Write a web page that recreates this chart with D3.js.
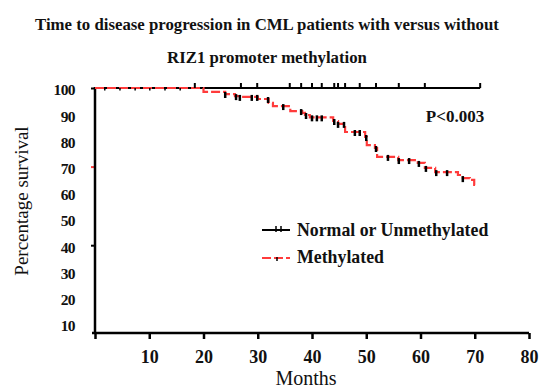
<!DOCTYPE html>
<html>
<head>
<meta charset="utf-8">
<script src="https://cdn.jsdelivr.net/npm/d3@7"></script>
<style>
  body { margin: 0; background: #fff; }
  text { font-family: "Liberation Serif", "Times New Roman", serif; fill: #111; }
</style>
</head>
<body>
<div id="dataViz" style="width:558px;height:389px"></div>
<script>
const width = 558;
const height = 389;

// Kaplan-Meier data
const methTimes = [0, 20, 24, 25.8, 26.7, 30, 32, 32.8, 36, 38.2, 38.7, 39.6, 43.9, 44.8, 46.1, 49.8, 50.1, 51.6, 52, 55.9, 59.5, 60.8, 62.7, 66.9, 67.8, 69.1, 69.9];
const methSurv = [100, 98.5, 97.7, 96.9, 96.6, 95.8, 94.3, 93.1, 91.2, 90.5, 89.7, 88.8, 87.4, 86.3, 83.2, 81.3, 78.2, 77.1, 73.7, 72.5, 71.4, 69.5, 67.9, 66.8, 65.6, 64.9, 63.0];
const methEnd = 70.3;
const methCensored = [1.8, 4.6, 7.4, 10.1, 12.9, 15.7, 24.0, 26.0, 26.7, 28.9, 29.9, 31.9, 34.7, 38.0, 38.9, 40.0, 40.9, 41.8, 44.1, 44.8, 45.9, 47.9, 48.8, 50.0, 51.8, 54.0, 56.0, 57.9, 59.7, 61.0, 62.9, 64.9, 67.8];

const normTimes = [0, 71];
const normSurv = [100, 100];
const normCensored = [18.4, 26.9, 29.9, 35.9, 38.0, 40.0, 41.8, 44.1, 44.8, 46.1, 48.8, 51.8, 56.0, 60.8, 71.0];

const xTicks = [0, 10, 20, 30, 40, 50, 60, 70, 80];
const yLabels = [100, 90, 80, 70, 60, 50, 40, 30, 20, 10];
const yTickMarks = [100, 70, 40];

const colours = { red: "#ff3b3b", black: "#000" };

const svg = d3.select("#dataViz").append("svg")
  .attr("width", width).attr("height", height);

const x = d3.scaleLinear().domain([0, 80]).range([95, 529]);
const y = d3.scaleLinear().domain([0, 100]).range([350, 88]);
const axisY = 333;

// Title
svg.append("text").attr("x", 267).attr("y", 30).attr("text-anchor", "middle")
  .style("font-size", "16.8px").style("font-weight", "bold")
  .text("Time to disease progression in CML patients with versus without");
svg.append("text").attr("x", 267).attr("y", 63).attr("text-anchor", "middle")
  .style("font-size", "16.8px").style("font-weight", "bold")
  .text("RIZ1 promoter methylation");

// x axis
const gx = svg.append("g")
  .attr("transform", `translate(0, ${axisY})`)
  .call(d3.axisBottom(x).tickValues(xTicks).tickSize(6).tickSizeOuter(0).tickPadding(11)
    .tickFormat(d => d === 0 ? "" : d));
gx.select(".domain").attr("stroke-width", 2.5).attr("d", `M${x(0) - 3},0H${x(80)}`);
gx.selectAll(".tick line").attr("stroke-width", 2.5);
gx.selectAll(".tick text").style("font-size", "18px").style("font-weight", "bold")
  .style("font-family", "Liberation Serif, serif").attr("fill", "#111");

// y axis ticks
const gy = svg.append("g")
  .attr("transform", `translate(${x(0)}, 0)`)
  .call(d3.axisLeft(y).tickValues(yTickMarks).tickSize(4).tickFormat(""));
gy.select(".domain").remove();
gy.selectAll(".tick line").attr("stroke-width", 2)
  .attr("stroke", d => d === 70 ? colours.red : colours.black);
svg.append("line")
  .attr("x1", x(0)).attr("x2", x(0))
  .attr("y1", y(100) - 1).attr("y2", axisY)
  .attr("stroke", colours.black).attr("stroke-width", 2.5);

// y labels
const gyl = svg.append("g")
  .attr("transform", `translate(${x(0)}, 0)`)
  .call(d3.axisLeft(y).tickValues(yLabels).tickSize(0).tickPadding(20));
gyl.select(".domain").remove();
gyl.selectAll(".tick text").style("font-size", "15.5px").style("font-weight", "bold")
  .style("font-family", "Liberation Serif, serif").style("letter-spacing", "-0.6px")
  .attr("fill", "#111").attr("dy", "0.45em");

// Curves
const line = d3.line().x(d => x(d[0])).y(d => y(d[1])).curve(d3.curveStepAfter);

const normPts = normTimes.map((t, i) => [t, normSurv[i]]);
svg.append("path").datum(normPts)
  .attr("fill", "none").attr("stroke", colours.black).attr("stroke-width", 2)
  .attr("d", line);

const methPts = methTimes.map((t, i) => [t, methSurv[i]]);
methPts.push([methEnd, methSurv[methSurv.length - 1]]);
svg.append("path").datum(methPts)
  .attr("fill", "none").attr("stroke", colours.red).attr("stroke-width", 2.2)
  .attr("stroke-dasharray", "9,3")
  .attr("d", line);

// Censor marks
const methAt = t => methSurv[d3.bisectRight(methTimes, t) - 1];

svg.selectAll(".cn").data(normCensored).enter().append("line")
  .attr("x1", d => x(d)).attr("x2", d => x(d))
  .attr("y1", y(100) - 5).attr("y2", y(100))
  .attr("stroke", colours.black).attr("stroke-width", 2);

svg.selectAll(".cm").data(methCensored).enter().append("line")
  .attr("x1", d => x(d)).attr("x2", d => x(d))
  .attr("y1", d => y(methAt(d)) - (d < 18 ? 0 : 2))
  .attr("y2", d => y(methAt(d)) + (d < 18 ? 2.5 : 4))
  .attr("stroke", colours.black).attr("stroke-width", d => d < 18 ? 1.5 : 2.5);

// P value
svg.append("text").attr("x", 455).attr("y", 122).attr("text-anchor", "middle")
  .style("font-size", "17px").style("font-weight", "bold").text("P<0.003");

// Legend
const legend = svg.append("g");
legend.append("line").attr("x1", 262).attr("x2", 290).attr("y1", 230).attr("y2", 230)
  .attr("stroke", colours.black).attr("stroke-width", 2);
legend.append("line").attr("x1", 276).attr("x2", 276).attr("y1", 226).attr("y2", 232)
  .attr("stroke", colours.black).attr("stroke-width", 1.5);
legend.append("line").attr("x1", 281).attr("x2", 281).attr("y1", 226).attr("y2", 232)
  .attr("stroke", colours.black).attr("stroke-width", 1.5);
legend.append("text").attr("x", 297).attr("y", 236)
  .style("font-size", "17.8px").style("font-weight", "bold").text("Normal or Unmethylated");

legend.append("line").attr("x1", 262).attr("x2", 290).attr("y1", 258).attr("y2", 258)
  .attr("stroke", colours.red).attr("stroke-width", 2).attr("stroke-dasharray", "9,3");
legend.append("line").attr("x1", 277).attr("x2", 277).attr("y1", 257).attr("y2", 261)
  .attr("stroke", colours.black).attr("stroke-width", 1.5);
legend.append("text").attr("x", 297).attr("y", 263)
  .style("font-size", "17.8px").style("font-weight", "bold").text("Methylated");

// Axis titles
svg.append("text").attr("x", 306).attr("y", 385).attr("text-anchor", "middle")
  .style("font-size", "20px").text("Months");
svg.append("text")
  .attr("transform", "rotate(-90)")
  .attr("x", -201).attr("y", 28)
  .attr("text-anchor", "middle")
  .style("font-size", "19px").text("Percentage survival");
</script>
</body>
</html>
